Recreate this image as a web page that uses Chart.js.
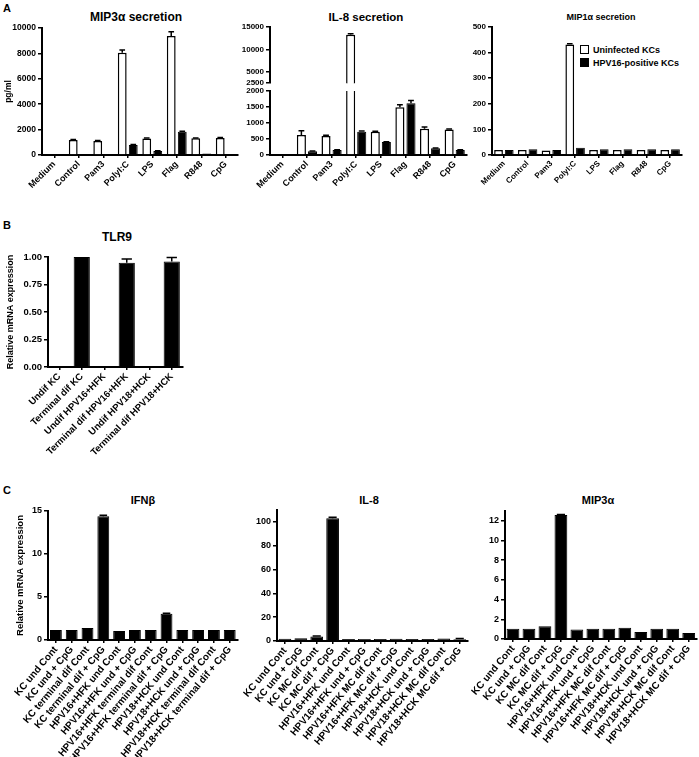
<!DOCTYPE html>
<html lang="en">
<head>
<meta charset="UTF-8">
<title>Keratinocyte TLR responses</title>
<script src="https://cdn.jsdelivr.net/npm/chart.js"></script>
<style>
  body { margin: 0; background: #fff; }
  #fig { position: relative; width: 699px; height: 757px; overflow: hidden;
         font-family: "Liberation Sans", Arial, sans-serif; font-weight: bold; color: #000; }
  #fig canvas { position: absolute; }
  .t { position: absolute; white-space: nowrap; transform: translate(-50%, -50%); }
  .lt { position: absolute; font-size: 11px; }
  .leg { position: absolute; left: 580px; font-size: 9px; white-space: nowrap; }
  .leg i { display: inline-block; width: 7px; height: 7px; border: 1.5px solid #000; margin-right: 4px; vertical-align: -1px; }
</style>
</head>
<body>
<div id="fig">
  <div class="lt" style="left:3px;top:2px">A</div>
  <div class="t" style="left:136px;top:17px;font-size:12px">MIP3&alpha; secretion</div>
  <div class="t" style="left:366px;top:17px;font-size:11.5px">IL-8 secretion</div>
  <div class="t" style="left:601px;top:17px;font-size:9px">MIP1&alpha; secretion</div>
  <div class="leg" style="top:45px"><i style="background:#fff"></i>Uninfected KCs</div>
  <div class="leg" style="top:58px"><i style="background:#000"></i>HPV16-positive KCs</div>

  <div class="lt" style="left:3px;top:219px">B</div>
  <div class="t" style="left:117px;top:237px;font-size:12px">TLR9</div>

  <div class="lt" style="left:3px;top:484px">C</div>
  <div class="t" style="left:143px;top:500px;font-size:11px">IFN&beta;</div>
  <div class="t" style="left:369px;top:500px;font-size:11px">IL-8</div>
  <div class="t" style="left:598px;top:500px;font-size:11px">MIP3&alpha;</div>

  <canvas id="mip3a" width="240" height="190" style="left:0;top:20px"></canvas>
  <canvas id="il8Top" width="240" height="70" style="left:230px;top:20px"></canvas>
  <canvas id="il8Low" width="240" height="126" style="left:230px;top:84px"></canvas>
  <canvas id="mip1a" width="245" height="190" style="left:450px;top:20px"></canvas>
  <canvas id="tlr9" width="190" height="223" style="left:0;top:247px"></canvas>
  <canvas id="ifnb" width="240" height="256" style="left:0;top:501px"></canvas>
  <canvas id="il8C" width="240" height="257" style="left:230px;top:500px"></canvas>
  <canvas id="mip3aC" width="239" height="256" style="left:460px;top:501px"></canvas>
</div>

<script>
// panel A: secretion (pg/ml), uninfected vs HPV16-positive keratinocytes
const stimuli = ['Medium', 'Control', 'Pam3', 'PolyI:C', 'LPS', 'Flag', 'R848', 'CpG'];

const mip3aUninf    = [0, 1180, 1100, 8050, 1300, 9370, 1310, 1340];
const mip3aUninfErr = [0, 40, 40, 220, 40, 330, 30, 30];
const mip3aHpv      = [0, 50, 30, 790, 315, 1830, 120, 60];
const mip3aHpvErr   = [0, 0, 0, 30, 20, 40, 0, 0];

const il8Uninf    = [20, 625, 594, 13300, 730, 1490, 823, 800];
const il8UninfErr = [0, 135, 20, 200, 10, 80, 50, 10];
const il8Hpv      = [20, 115, 156, 730, 406, 1615, 208, 156];
const il8HpvErr   = [0, 10, 10, 20, 10, 85, 10, 10];
const il8TopTicks = [2500, 5000, 10000, 15000];

const mip1aUninf    = [20, 20, 18, 432, 20, 20, 20, 20];
const mip1aUninfErr = [0, 0, 0, 3, 0, 0, 0, 0];
const mip1aHpv      = [20, 22, 20, 28, 22, 22, 22, 22];

// panel B: TLR9 mRNA
const tlr9Groups = ['Undif KC', 'Terminal dif KC', 'Undif HPV16+HFK', 'Terminal dif HPV16+HFK',
                    'Undif HPV18+HCK', 'Terminal dif HPV18+HCK'];
const tlr9Vals = [0, 1.00, 0, 0.947, 0, 0.96];
const tlr9Err  = [0, 0, 0, 0.035, 0, 0.035];

// panel C: mRNA after CpG
const ifnbGroups = ['KC und Cont', 'KC und + CpG', 'KC terminal dif Cont', 'KC terminal dif + CpG',
  'HPV16+HFK und Cont', 'HPV16+HFK und + CpG', 'HPV16+HFK terminal dif Cont', 'HPV16+HFK terminal dif + CpG',
  'HPV18+HCK und Cont', 'HPV18+HCK und + CpG', 'HPV18+HCK terminal dif Cont', 'HPV18+HCK terminal dif + CpG'];
const mcGroups = ['KC und Cont', 'KC und + CpG', 'KC MC dif Cont', 'KC MC dif + CpG',
  'HPV16+HFK und Cont', 'HPV16+HFK und + CpG', 'HPV16+HFK MC dif Cont', 'HPV16+HFK MC dif + CpG',
  'HPV18+HCK und Cont', 'HPV18+HCK und + CpG', 'HPV18+HCK MC dif Cont', 'HPV18+HCK MC dif + CpG'];
const ifnbVals  = [1.15, 1.15, 1.4, 14.4, 1.05, 1.15, 1.15, 3.05, 1.15, 1.15, 1.15, 1.15];
const ifnbErr   = [0, 0, 0, 0.1, 0, 0, 0, 0.05, 0, 0, 0, 0];
const il8CVals  = [1.8, 2.4, 3.8, 103, 1.6, 1.7, 1.6, 1.9, 1.6, 1.6, 2.0, 1.4];
const il8CErr   = [0, 0, 0.4, 1, 0, 0, 0, 0, 0, 0, 0, 0.6];
const mip3aCVals = [1.05, 1.05, 1.3, 12.6, 0.97, 1.05, 1.05, 1.15, 0.7, 1.05, 1.05, 0.6];
const mip3aCErr  = [0, 0, 0, 0.05, 0, 0, 0, 0, 0, 0, 0, 0];

Chart.defaults.font.family = '"Liberation Sans", Arial, sans-serif';
Chart.defaults.font.weight = 'bold';
Chart.defaults.color = '#000';

// upward error bars with a cap, GraphPad style
const errorBars = {
  id: 'errorBars',
  afterDatasetsDraw(chart) {
    const {ctx, chartArea: ca, scales: {y}} = chart;
    ctx.save();
    ctx.beginPath();
    ctx.rect(ca.left, ca.top - 3, ca.right - ca.left, ca.bottom - ca.top + 3);
    ctx.clip();
    ctx.strokeStyle = '#000';
    ctx.lineWidth = 1.5;
    chart.data.datasets.forEach((ds, di) => {
      if (!ds.errors) return;
      chart.getDatasetMeta(di).data.forEach((bar, i) => {
        const e = ds.errors[i];
        if (!e) return;
        const top = y.getPixelForValue(ds.data[i] + e);
        const half = bar.width * 0.32;
        ctx.beginPath();
        ctx.moveTo(bar.x, bar.y);
        ctx.lineTo(bar.x, top);
        ctx.moveTo(bar.x - half, top);
        ctx.lineTo(bar.x + half, top);
        ctx.stroke();
      });
    });
    ctx.restore();
  }
};

function yAxis(o) {
  const ax = {
    min: 0, max: o.max,
    border: {display: true, color: '#000', width: 2},
    grid: {drawOnChartArea: false, drawTicks: true, tickLength: 4, color: '#000', lineWidth: 1.5},
    ticks: {stepSize: o.step, includeBounds: false, padding: 2, font: {size: o.font},
            callback: o.fmt || (v => String(v))},
    title: {display: !!o.title, text: o.title, font: {size: o.titleSize || 9}, padding: o.titlePad || 0},
    afterFit: s => { s.width = o.width; }
  };
  if (o.min !== undefined) ax.min = o.min;
  if (o.ticksAt) ax.afterBuildTicks = s => { s.ticks = o.ticksAt.map(v => ({value: v})); };
  return ax;
}

function xAxis(o) {
  if (o.hidden) return {display: false};
  return {
    border: {display: true, color: '#000', width: 2},
    grid: {drawOnChartArea: false, drawTicks: true, tickLength: 3, color: '#000', lineWidth: 1.5, offset: false},
    ticks: {autoSkip: false, minRotation: o.rot, maxRotation: o.rot, padding: 1, font: {size: o.font}},
    afterFit: s => { s.height = o.height; }
  };
}

function bars(data, errors, fill, cat, bar) {
  return {data, errors, backgroundColor: fill, borderColor: '#000',
          borderWidth: fill === '#fff' ? 1.5 : 1, categoryPercentage: cat, barPercentage: bar};
}

function barChart(id, o) {
  return new Chart(document.getElementById(id), {
    type: 'bar',
    data: {labels: o.labels, datasets: o.datasets},
    options: {
      responsive: false, animation: false, events: [],
      layout: {padding: o.pad},
      plugins: {legend: {display: false}, tooltip: {enabled: false}},
      scales: {x: xAxis(o.x), y: yAxis(o.y)}
    },
    plugins: [errorBars]
  });
}

barChart('mip3a', {
  labels: stimuli,
  datasets: [bars(mip3aUninf, mip3aUninfErr, '#fff', 0.9, 0.8), bars(mip3aHpv, mip3aHpvErr, '#000', 0.9, 0.8)],
  pad: {top: 8, right: 2, left: 0, bottom: 0},
  x: {rot: 45, font: 9, height: 55},
  y: {max: 10000, step: 2000, font: 8.5, width: 42, title: 'pg/ml', titleSize: 8.5, titlePad: 4}
});

barChart('il8Top', {
  labels: stimuli,
  datasets: [bars(il8Uninf, il8UninfErr, '#fff', 0.9, 0.82), bars(il8Hpv, il8HpvErr, '#000', 0.9, 0.82)],
  pad: {top: 7, right: 3, left: 0, bottom: 5},
  x: {hidden: true},
  y: {min: 2500, max: 15000, ticksAt: il8TopTicks, font: 8, width: 40}
});

barChart('il8Low', {
  labels: stimuli,
  datasets: [bars(il8Uninf, il8UninfErr, '#fff', 0.9, 0.82), bars(il8Hpv, il8HpvErr, '#000', 0.9, 0.82)],
  pad: {top: 7, right: 3, left: 0, bottom: 0},
  x: {rot: 45, font: 9, height: 55},
  y: {max: 2000, step: 500, font: 8, width: 40}
});

barChart('mip1a', {
  labels: stimuli,
  datasets: [bars(mip1aUninf, mip1aUninfErr, '#fff', 0.9, 0.82), bars(mip1aHpv, null, '#000', 0.9, 0.82)],
  pad: {top: 7, right: 13, left: 0, bottom: 0},
  x: {rot: 45, font: 8, height: 55},
  y: {max: 500, step: 100, font: 8, width: 42}
});

barChart('tlr9', {
  labels: tlr9Groups,
  datasets: [bars(tlr9Vals, tlr9Err, '#000', 1, 0.72)],
  pad: {top: 10, right: 7, left: 0, bottom: 0},
  x: {rot: 45, font: 9.5, height: 103},
  y: {max: 1, step: 0.25, font: 9.5, width: 48, fmt: v => v.toFixed(2),
      title: 'Relative mRNA expression', titleSize: 9, titlePad: 5.5}
});

barChart('ifnb', {
  labels: ifnbGroups,
  datasets: [bars(ifnbVals, ifnbErr, '#000', 1, 0.75)],
  pad: {top: 10, right: 2, left: 0, bottom: 0},
  x: {rot: 50, font: 10, height: 117},
  y: {max: 15, step: 5, font: 9, width: 48,
      title: 'Relative mRNA expression', titleSize: 9.5, titlePad: 15}
});

barChart('il8C', {
  labels: mcGroups,
  datasets: [bars(il8CVals, il8CErr, '#000', 1, 0.8)],
  pad: {top: 10, right: 2, left: 0, bottom: 0},
  x: {rot: 50, font: 10, height: 116},
  y: {max: 110, step: 20, font: 9, width: 47}
});

barChart('mip3aC', {
  labels: mcGroups,
  datasets: [bars(mip3aCVals, mip3aCErr, '#000', 1, 0.8)],
  pad: {top: 10, right: 2, left: 0, bottom: 0},
  x: {rot: 50, font: 10, height: 118},
  y: {max: 13, step: 2, font: 9, width: 45}
});
</script>
</body>
</html>
